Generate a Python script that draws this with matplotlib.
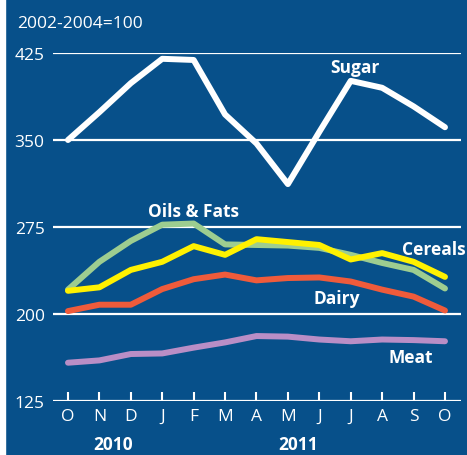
import matplotlib
matplotlib.use("Agg")
import matplotlib.pyplot as plt
from matplotlib.patches import Rectangle

months = ["O", "N", "D", "J", "F", "M", "A", "M", "J", "J", "A", "S", "O"]
years = ["2010", "2011"]
yticks = [125, 200, 275, 350, 425]

sugar = [350, 374, 399, 420, 419, 372, 347, 312, 357, 401, 395, 379, 361]
oils_fats = [221, 245, 263, 277, 278, 260, 259.5, 259, 257, 251, 244, 238, 222]
cereals = [220, 223, 238, 245, 258.5, 251, 264.5, 262, 259.5, 247, 252.5, 245, 232]
dairy = [202.5, 208, 208, 221.5, 230, 234, 229, 231, 231.5, 228, 221, 215, 203]
meat = [158, 160, 165.5, 166, 171, 175.5, 181, 180.5, 178, 176.5, 178, 177.5, 176.5]

BG = "#07508a"
W, H = 467, 456
plt.rcParams['font.family'] = ['Open Sans', 'DejaVu Sans']
fig = plt.figure(figsize=(W / 100, H / 100), dpi=100, facecolor=BG)

left, right = 53 / W, 461 / W
bottom, top = 1 - 402 / H, 1 - 54 / H
ax = fig.add_axes([left, bottom, right - left, top - bottom])
ax.set_facecolor(BG)
for s in ax.spines.values():
    s.set_visible(False)

x = list(range(len(months)))
ax.set_xlim(-0.477, 12.51)
ax.set_ylim(125, 425)

for v in yticks:
    ax.axhline(v, color="white", lw=1.6, zorder=1)

series = [
    (meat, "#b98ec6"),
    (dairy, "#ef5b3b"),
    (oils_fats, "#9dcd90"),
    (cereals, "#fff100"),
    (sugar, "white"),
]
for vals, c in series:
    ax.plot(x, vals, color=c, lw=4.3, solid_capstyle="round", solid_joinstyle="round", zorder=3)

FS = 12.5
ax.set_yticks(yticks)
ax.set_yticklabels([str(v) for v in yticks])
ax.set_xticks(x)
ax.set_xticklabels(months)
ax.tick_params(axis="y", length=0, pad=6, labelsize=FS, labelcolor="white")
ax.tick_params(axis="x", direction="in", length=6.5, width=1.5, color="white",
               pad=5, labelsize=FS, labelcolor="white")

bold = dict(color="white", fontsize=FS, fontweight="bold", ha="center", va="center")
ax.text(9.13, 413, "Sugar", **bold)
ax.text(3.98, 289, "Oils & Fats", **bold)
ax.text(11.65, 256, "Cereals", **bold)
ax.text(8.56, 214, "Dairy", **bold)
ax.text(10.92, 163, "Meat", **bold)

fig.text(17 / W, 1 - 24 / H, "2002-2004=100", color="white", fontsize=FS, ha="left", va="center")
fig.text(113 / W, 1 - 445 / H, years[0], color="white", fontsize=FS, fontweight="bold", ha="center", va="center")
fig.text(298 / W, 1 - 445 / H, years[1], color="white", fontsize=FS, fontweight="bold", ha="center", va="center")

fig.patches.append(Rectangle((0, 0), 5 / W, 1, transform=fig.transFigure, color="white", zorder=10))

fig.savefig("out.png", dpi=100, facecolor=BG)
